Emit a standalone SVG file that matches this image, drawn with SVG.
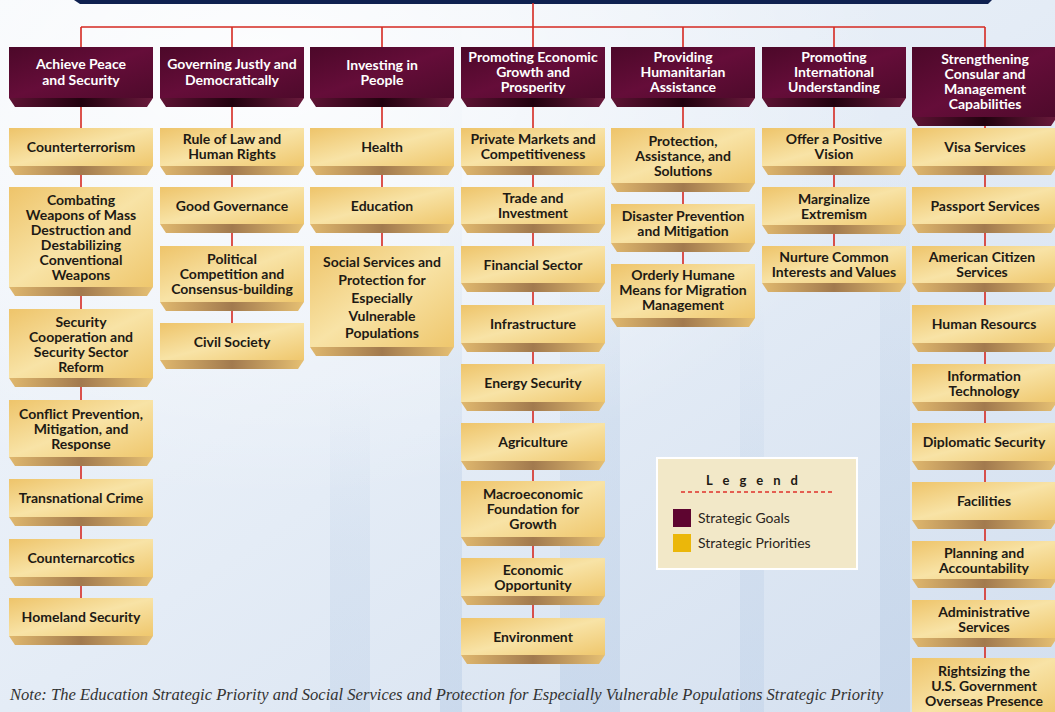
<svg xmlns="http://www.w3.org/2000/svg" width="1055" height="712" viewBox="0 0 1055 712">
<defs>
<linearGradient id="bg" x1="0" y1="0" x2="1" y2="1">
<stop offset="0" stop-color="#f4f7fb"/>
<stop offset="0.5" stop-color="#e4ecf6"/>
<stop offset="1" stop-color="#d3dfef"/>
</linearGradient>
<radialGradient id="glow" cx="0.25" cy="0.1" r="0.6">
<stop offset="0" stop-color="#ffffff" stop-opacity="0.85"/>
<stop offset="1" stop-color="#ffffff" stop-opacity="0"/>
</radialGradient>
<linearGradient id="bandg" x1="0" y1="0" x2="0" y2="1">
<stop offset="0" stop-color="#b9cde6" stop-opacity="0"/>
<stop offset="0.5" stop-color="#b9cde6" stop-opacity="0.35"/>
<stop offset="1" stop-color="#b9cde6" stop-opacity="0.5"/>
</linearGradient>
<linearGradient id="pbody" x1="0" y1="0" x2="1" y2="1">
<stop offset="0" stop-color="#eec46a"/>
<stop offset="0.5" stop-color="#f8e3a6"/>
<stop offset="1" stop-color="#efc76d"/>
</linearGradient>
<linearGradient id="pbev" x1="0" y1="0" x2="1" y2="0">
<stop offset="0" stop-color="#e0b86e"/>
<stop offset="0.5" stop-color="#a27a4e"/>
<stop offset="1" stop-color="#e6c073"/>
</linearGradient>
<linearGradient id="gbody" x1="0" y1="0" x2="1" y2="1">
<stop offset="0" stop-color="#4c0829"/>
<stop offset="0.5" stop-color="#650d39"/>
<stop offset="1" stop-color="#4e0a2b"/>
</linearGradient>
<linearGradient id="gbev" x1="0" y1="0" x2="1" y2="0">
<stop offset="0" stop-color="#5e1334"/>
<stop offset="0.5" stop-color="#22020f"/>
<stop offset="1" stop-color="#6a1a3c"/>
</linearGradient>
<style>
.pb{fill:url(#pbody)}
.pv{fill:url(#pbev)}
.gb{fill:url(#gbody)}
.gv{fill:url(#gbev)}
.pt{font-family:Lato,"Liberation Sans",sans-serif;font-weight:bold;font-size:14px;fill:#1e1a14;text-anchor:middle}
.gt{font-family:Lato,"Liberation Sans",sans-serif;font-weight:bold;font-size:14px;fill:#ffffff;text-anchor:middle}
.ln{stroke:#d52a22;stroke-width:1.6;fill:none}
.band{fill:url(#bandg)}
</style>
</defs>
<rect width="1055" height="712" fill="url(#bg)"/>
<rect x="440" y="0" width="22" height="712" class="band"/>
<rect x="560" y="120" width="60" height="592" class="band"/>
<rect x="740" y="300" width="24" height="412" class="band" opacity="0.8"/>
<rect x="880" y="150" width="30" height="562" class="band"/>
<rect x="330" y="380" width="40" height="332" class="band" opacity="0.7"/>
<rect width="1055" height="712" fill="url(#glow)"/>
<polygon points="74,0 992,0 988,4 80,4" fill="#0f2150"/>

<g id="connectors">
<path class="ln" d="M533,3 V27 M81,27 H985 M81,27 V600 M232,27 V325 M382,27 V248 M533,27 V620 M683,27 V266 M834,27 V248 M985,27 V660"/>
</g>

<g id="goal1"><rect class="gb" x="9" y="47" width="144" height="51"/><polygon class="gv" points="9,98 153,98 147,107 15,107"/><text class="gt" x="81" y="69">Achieve Peace</text><text class="gt" x="81" y="85">and Security</text></g>
<g id="goal2"><rect class="gb" x="160" y="47" width="144" height="51"/><polygon class="gv" points="160,98 304,98 298,107 166,107"/><text class="gt" x="232" y="69">Governing Justly and</text><text class="gt" x="232" y="85">Democratically</text></g>
<g id="goal3"><rect class="gb" x="310" y="47" width="144" height="51"/><polygon class="gv" points="310,98 454,98 448,107 316,107"/><text class="gt" x="382" y="70">Investing in</text><text class="gt" x="382" y="85">People</text></g>
<g id="goal4"><rect class="gb" x="461" y="47" width="144" height="51"/><polygon class="gv" points="461,98 605,98 599,107 467,107"/><text class="gt" x="533" y="62">Promoting Economic</text><text class="gt" x="533" y="77">Growth and</text><text class="gt" x="533" y="92">Prosperity</text></g>
<g id="goal5"><rect class="gb" x="611" y="47" width="144" height="51"/><polygon class="gv" points="611,98 755,98 749,107 617,107"/><text class="gt" x="683" y="62">Providing</text><text class="gt" x="683" y="77">Humanitarian</text><text class="gt" x="683" y="92">Assistance</text></g>
<g id="goal6"><rect class="gb" x="762" y="47" width="144" height="51"/><polygon class="gv" points="762,98 906,98 900,107 768,107"/><text class="gt" x="834" y="62">Promoting</text><text class="gt" x="834" y="77">International</text><text class="gt" x="834" y="92">Understanding</text></g>
<g id="goal7"><rect class="gb" x="912" y="47" width="145" height="70"/><polygon class="gv" points="912,117 1057,117 1051,126 918,126"/><text class="gt" x="985" y="64">Strengthening</text><text class="gt" x="985" y="79">Consular and</text><text class="gt" x="985" y="94">Management</text><text class="gt" x="985" y="109">Capabilities</text></g>

<g id="p1-1"><rect class="pb" x="9" y="128" width="144" height="38"/><polygon class="pv" points="9,166 153,166 147,175 15,175"/><text class="pt" x="81" y="152">Counterterrorism</text></g>
<g id="p1-2"><rect class="pb" x="9" y="187" width="144" height="100"/><polygon class="pv" points="9,287 153,287 147,296 15,296"/><text class="pt" x="81" y="205">Combating</text><text class="pt" x="81" y="220">Weapons of Mass</text><text class="pt" x="81" y="235">Destruction and</text><text class="pt" x="81" y="250">Destabilizing</text><text class="pt" x="81" y="265">Conventional</text><text class="pt" x="81" y="280">Weapons</text></g>
<g id="p1-3"><rect class="pb" x="9" y="309" width="144" height="69"/><polygon class="pv" points="9,378 153,378 147,387 15,387"/><text class="pt" x="81" y="327">Security</text><text class="pt" x="81" y="342">Cooperation and</text><text class="pt" x="81" y="357">Security Sector</text><text class="pt" x="81" y="372">Reform</text></g>
<g id="p1-4"><rect class="pb" x="9" y="400" width="144" height="57"/><polygon class="pv" points="9,457 153,457 147,466 15,466"/><text class="pt" x="81" y="419">Conflict Prevention,</text><text class="pt" x="81" y="434">Mitigation, and</text><text class="pt" x="81" y="449">Response</text></g>
<g id="p1-5"><rect class="pb" x="9" y="479" width="144" height="38"/><polygon class="pv" points="9,517 153,517 147,526 15,526"/><text class="pt" x="81" y="503">Transnational Crime</text></g>
<g id="p1-6"><rect class="pb" x="9" y="539" width="144" height="38"/><polygon class="pv" points="9,577 153,577 147,586 15,586"/><text class="pt" x="81" y="563">Counternarcotics</text></g>
<g id="p1-7"><rect class="pb" x="9" y="598" width="144" height="38"/><polygon class="pv" points="9,636 153,636 147,645 15,645"/><text class="pt" x="81" y="622">Homeland Security</text></g>

<g id="p2-1"><rect class="pb" x="160" y="128" width="144" height="38"/><polygon class="pv" points="160,166 304,166 298,175 166,175"/><text class="pt" x="232" y="144">Rule of Law and</text><text class="pt" x="232" y="159">Human Rights</text></g>
<g id="p2-2"><rect class="pb" x="160" y="187" width="144" height="37"/><polygon class="pv" points="160,224 304,224 298,233 166,233"/><text class="pt" x="232" y="211">Good Governance</text></g>
<g id="p2-3"><rect class="pb" x="160" y="246" width="144" height="56"/><polygon class="pv" points="160,302 304,302 298,311 166,311"/><text class="pt" x="232" y="264">Political</text><text class="pt" x="232" y="279">Competition and</text><text class="pt" x="232" y="294">Consensus-building</text></g>
<g id="p2-4"><rect class="pb" x="160" y="323" width="144" height="37"/><polygon class="pv" points="160,360 304,360 298,369 166,369"/><text class="pt" x="232" y="347">Civil Society</text></g>

<g id="p3-1"><rect class="pb" x="310" y="128" width="144" height="38"/><polygon class="pv" points="310,166 454,166 448,175 316,175"/><text class="pt" x="382" y="152">Health</text></g>
<g id="p3-2"><rect class="pb" x="310" y="187" width="144" height="37"/><polygon class="pv" points="310,224 454,224 448,233 316,233"/><text class="pt" x="382" y="211">Education</text></g>
<g id="p3-3"><rect class="pb" x="310" y="246" width="144" height="101"/><polygon class="pv" points="310,347 454,347 448,356 316,356"/><text class="pt" x="382" y="267">Social Services and</text><text class="pt" x="382" y="285">Protection for</text><text class="pt" x="382" y="303">Especially</text><text class="pt" x="382" y="321">Vulnerable</text><text class="pt" x="382" y="338">Populations</text></g>

<g id="p4-1"><rect class="pb" x="461" y="128" width="144" height="38"/><polygon class="pv" points="461,166 605,166 599,175 467,175"/><text class="pt" x="533" y="144">Private Markets and</text><text class="pt" x="533" y="159">Competitiveness</text></g>
<g id="p4-2"><rect class="pb" x="461" y="187" width="144" height="37"/><polygon class="pv" points="461,224 605,224 599,233 467,233"/><text class="pt" x="533" y="203">Trade and</text><text class="pt" x="533" y="218">Investment</text></g>
<g id="p4-3"><rect class="pb" x="461" y="246" width="144" height="37"/><polygon class="pv" points="461,283 605,283 599,292 467,292"/><text class="pt" x="533" y="270">Financial Sector</text></g>
<g id="p4-4"><rect class="pb" x="461" y="305" width="144" height="38"/><polygon class="pv" points="461,343 605,343 599,352 467,352"/><text class="pt" x="533" y="329">Infrastructure</text></g>
<g id="p4-5"><rect class="pb" x="461" y="364" width="144" height="38"/><polygon class="pv" points="461,402 605,402 599,411 467,411"/><text class="pt" x="533" y="388">Energy Security</text></g>
<g id="p4-6"><rect class="pb" x="461" y="423" width="144" height="38"/><polygon class="pv" points="461,461 605,461 599,470 467,470"/><text class="pt" x="533" y="447">Agriculture</text></g>
<g id="p4-7"><rect class="pb" x="461" y="481" width="144" height="56"/><polygon class="pv" points="461,537 605,537 599,546 467,546"/><text class="pt" x="533" y="499">Macroeconomic</text><text class="pt" x="533" y="514">Foundation for</text><text class="pt" x="533" y="529">Growth</text></g>
<g id="p4-8"><rect class="pb" x="461" y="558" width="144" height="38"/><polygon class="pv" points="461,596 605,596 599,605 467,605"/><text class="pt" x="533" y="575">Economic</text><text class="pt" x="533" y="590">Opportunity</text></g>
<g id="p4-9"><rect class="pb" x="461" y="618" width="144" height="37"/><polygon class="pv" points="461,655 605,655 599,664 467,664"/><text class="pt" x="533" y="642">Environment</text></g>

<g id="p5-1"><rect class="pb" x="611" y="128" width="144" height="55"/><polygon class="pv" points="611,183 755,183 749,192 617,192"/><text class="pt" x="683" y="146">Protection,</text><text class="pt" x="683" y="161">Assistance, and</text><text class="pt" x="683" y="176">Solutions</text></g>
<g id="p5-2"><rect class="pb" x="611" y="204" width="144" height="39"/><polygon class="pv" points="611,243 755,243 749,252 617,252"/><text class="pt" x="683" y="221">Disaster Prevention</text><text class="pt" x="683" y="236">and Mitigation</text></g>
<g id="p5-3"><rect class="pb" x="611" y="264" width="144" height="54"/><polygon class="pv" points="611,318 755,318 749,327 617,327"/><text class="pt" x="683" y="280">Orderly Humane</text><text class="pt" x="683" y="295">Means for Migration</text><text class="pt" x="683" y="310">Management</text></g>

<g id="p6-1"><rect class="pb" x="762" y="128" width="144" height="38"/><polygon class="pv" points="762,166 906,166 900,175 768,175"/><text class="pt" x="834" y="144">Offer a Positive</text><text class="pt" x="834" y="159">Vision</text></g>
<g id="p6-2"><rect class="pb" x="762" y="187" width="144" height="38"/><polygon class="pv" points="762,225 906,225 900,234 768,234"/><text class="pt" x="834" y="204">Marginalize</text><text class="pt" x="834" y="219">Extremism</text></g>
<g id="p6-3"><rect class="pb" x="762" y="246" width="144" height="37"/><polygon class="pv" points="762,283 906,283 900,292 768,292"/><text class="pt" x="834" y="262">Nurture Common</text><text class="pt" x="834" y="277">Interests and Values</text></g>

<g id="p7-1"><rect class="pb" x="912" y="128" width="145" height="38"/><polygon class="pv" points="912,166 1057,166 1051,175 918,175"/><text class="pt" x="985" y="152">Visa Services</text></g>
<g id="p7-2"><rect class="pb" x="912" y="187" width="145" height="37"/><polygon class="pv" points="912,224 1057,224 1051,233 918,233"/><text class="pt" x="985" y="211">Passport Services</text></g>
<g id="p7-3"><rect class="pb" x="912" y="246" width="145" height="37"/><polygon class="pv" points="912,283 1057,283 1051,292 918,292"/><text class="pt" x="982" y="262">American Citizen</text><text class="pt" x="982" y="277">Services</text></g>
<g id="p7-4"><rect class="pb" x="912" y="305" width="145" height="38"/><polygon class="pv" points="912,343 1057,343 1051,352 918,352"/><text class="pt" x="984" y="329">Human Resourcs</text></g>
<g id="p7-5"><rect class="pb" x="912" y="364" width="145" height="38"/><polygon class="pv" points="912,402 1057,402 1051,411 918,411"/><text class="pt" x="984" y="381">Information</text><text class="pt" x="984" y="396">Technology</text></g>
<g id="p7-6"><rect class="pb" x="912" y="423" width="145" height="38"/><polygon class="pv" points="912,461 1057,461 1051,470 918,470"/><text class="pt" x="984" y="447">Diplomatic Security</text></g>
<g id="p7-7"><rect class="pb" x="912" y="482" width="145" height="38"/><polygon class="pv" points="912,520 1057,520 1051,529 918,529"/><text class="pt" x="984" y="506">Facilities</text></g>
<g id="p7-8"><rect class="pb" x="912" y="541" width="145" height="38"/><polygon class="pv" points="912,579 1057,579 1051,588 918,588"/><text class="pt" x="984" y="558">Planning and</text><text class="pt" x="984" y="573">Accountability</text></g>
<g id="p7-9"><rect class="pb" x="912" y="600" width="145" height="38"/><polygon class="pv" points="912,638 1057,638 1051,647 918,647"/><text class="pt" x="984" y="617">Administrative</text><text class="pt" x="984" y="632">Services</text></g>
<g id="p7-10"><rect class="pb" x="912" y="658" width="145" height="60"/><text class="pt" x="984" y="676">Rightsizing the</text><text class="pt" x="984" y="691">U.S. Government</text><text class="pt" x="984" y="706">Overseas Presence</text></g>

<g id="legend">
<rect x="657" y="458" width="200" height="111" fill="#f2e8c8" stroke="#ffffff" stroke-width="2"/>
<text x="757" y="485" font-family="Lato,'Liberation Sans',sans-serif" font-weight="bold" font-size="13" fill="#1e1a14" text-anchor="middle" letter-spacing="10">Legend</text>
<line x1="681" y1="492" x2="832" y2="492" stroke="#e0302a" stroke-width="1.5" stroke-dasharray="4,3"/>
<rect x="673" y="509" width="18" height="18" fill="#5e0530"/>
<text x="698" y="523" font-family="Lato,'Liberation Sans',sans-serif" font-size="14" fill="#2a2520">Strategic Goals</text>
<rect x="673" y="534" width="18" height="18" fill="#ebb70a"/>
<text x="698" y="548" font-family="Lato,'Liberation Sans',sans-serif" font-size="14" fill="#2a2520">Strategic Priorities</text>
</g>

<text x="10" y="700" font-family="'Liberation Serif',serif" font-style="italic" font-size="16.5" fill="#333333" textLength="873" lengthAdjust="spacingAndGlyphs">Note: The Education Strategic Priority and Social Services and Protection for Especially Vulnerable Populations Strategic Priority</text>
</svg>
